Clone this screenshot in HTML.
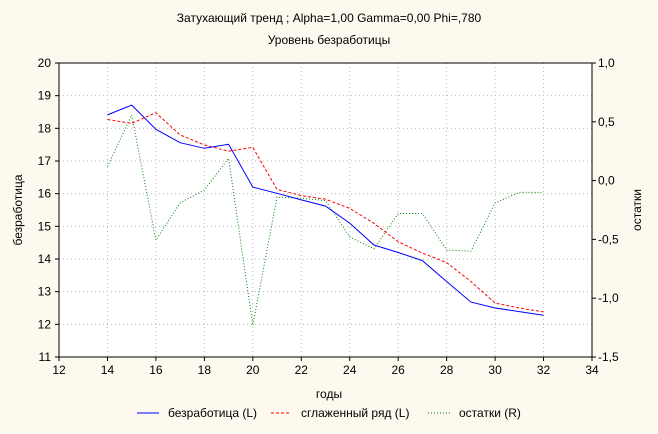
<!DOCTYPE html>
<html><head><meta charset="utf-8"><style>
body{margin:0;background:#fdf9ee;}
svg{display:block;font-family:"Liberation Sans",sans-serif;font-size:12px;}
</style></head><body>
<svg id="chart" width="658" height="434" viewBox="0 0 658 434" xmlns="http://www.w3.org/2000/svg">
<rect width="658" height="434" fill="#fdf9ee"/>
<text x="329" y="22" text-anchor="middle">Затухающий тренд ; Alpha=1,00 Gamma=0,00 Phi=,780</text>
<text x="329" y="44" text-anchor="middle">Уровень безработицы</text>
<rect x="59" y="63" width="533" height="294" fill="#fff"/>
<g id="grid"></g>
<g id="series"></g>
<rect x="59" y="63" width="533" height="294" fill="none" stroke="#000"/>
<g id="axes"></g>
<text x="329" y="398" text-anchor="middle">годы</text>
<text transform="translate(22,210) rotate(-90)" text-anchor="middle">безработица</text>
<text transform="translate(641,210) rotate(-90)" text-anchor="middle">остатки</text>
<g>
<g><line x1="137" y1="413" x2="159" y2="413" stroke="#0000ff"/><text x="168" y="417">безработица (L)</text></g>
<g><line x1="271" y1="413" x2="290" y2="413" stroke="#ff0000" stroke-dasharray="3,2"/><text x="301" y="417">сглаженный ряд (L)</text></g>
<g><line x1="428" y1="413" x2="450" y2="413" stroke="#008000" stroke-dasharray="1,2"/><text x="459" y="417">остатки (R)</text></g>
</g>
</svg>
<script>
const years=[14,15,16,17,18,19,20,21,22,23,24,25,26,27,28,29,30,31,32];
const unemployment=[18.41,18.71,17.97,17.56,17.39,17.51,16.2,16.01,15.81,15.62,15.1,14.43,14.2,13.95,13.31,12.68,12.5,12.39,12.28];
const smoothed=[18.27,18.15,18.48,17.8,17.49,17.3,17.42,16.13,15.94,15.83,15.55,15.09,14.53,14.18,13.89,13.31,12.65,12.5,12.38];
const residuals=[0.12,0.557,-0.506,-0.19,-0.08,0.19,-1.23,-0.14,-0.15,-0.17,-0.48,-0.58,-0.28,-0.28,-0.59,-0.6,-0.19,-0.1,-0.1];
const xTicks=[12,14,16,18,20,22,24,26,28,30,32,34];
const yLeftTicks=[11,12,13,14,15,16,17,18,19,20];
const yRightTicks=[-1.5,-1.0,-0.5,0.0,0.5,1.0];
const L=59,R=592,T=63,B=357;
const sx=v=>L+(v-12)/22*(R-L);
const sy=v=>B-(v-11)/9*(B-T);
const sr=v=>B-(v+1.5)/2.5*(B-T);
const NS="http://www.w3.org/2000/svg";
function mk(tag,attrs,parent){const e=document.createElementNS(NS,tag);for(const k in attrs)e.setAttribute(k,attrs[k]);parent.appendChild(e);return e;}
const grid=document.getElementById('grid'),axes=document.getElementById('axes'),series=document.getElementById('series');
xTicks.forEach(t=>{
 if(t>12&&t<34){const g=mk('line',{x1:sx(t),x2:sx(t),y1:T,y2:B,stroke:'#b8b8b8','stroke-dasharray':'1,3'},grid);
 
 }
 const tk=mk('line',{x1:sx(t),x2:sx(t),y1:B,y2:B+4,stroke:'#000'},axes);
 
 
 const tx=mk('text',{x:sx(t),y:B+17,'text-anchor':'middle'},axes);tx.textContent=t;
 
 
});
yLeftTicks.forEach(t=>{
 if(t>11&&t<20){const g=mk('line',{x1:L,x2:R,y1:sy(t),y2:sy(t),stroke:'#b8b8b8','stroke-dasharray':'1,3'},grid);
 
 }
 const tk=mk('line',{x1:L-4,x2:L,y1:sy(t),y2:sy(t),stroke:'#000'},axes);
 
 
 const tx=mk('text',{x:L-8,y:sy(t)+4,'text-anchor':'end'},axes);tx.textContent=t;
 
 
});
yRightTicks.forEach(t=>{
 const tk=mk('line',{x1:R,x2:R+4,y1:sr(t),y2:sr(t),stroke:'#000'},axes);
 
 
 const tx=mk('text',{x:R+6,y:sr(t)+4},axes);tx.textContent=t.toFixed(1).replace('.',',');
 
 
});
function line(vals,scale,color,dash,name){
 const pts=vals.map((v,i)=>sx(years[i]).toFixed(1)+','+scale(v).toFixed(1)).join(' ');
 const p=mk('polyline',{points:pts,fill:'none',stroke:color,'stroke-dasharray':dash},series);
 
 
}
line(residuals,sr,'#008000','1,2','residuals-line');
line(smoothed,sy,'#ff0000','3,2','smoothed-line');
line(unemployment,sy,'#0000ff','none','unemployment-line');
</script>
</body></html>
